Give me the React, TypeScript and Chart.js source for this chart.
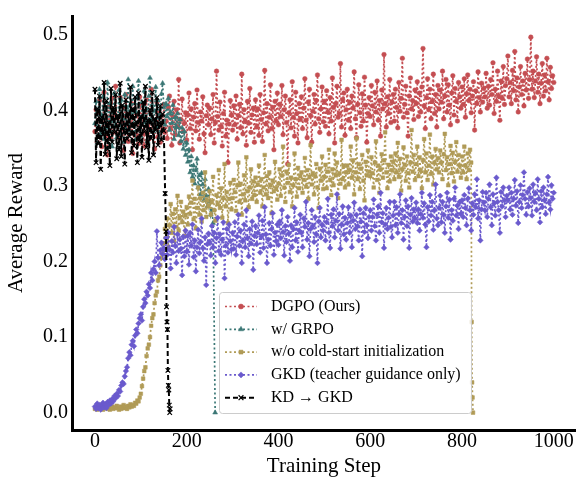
import React, { useEffect, useRef } from 'react';
import { Chart, registerables } from 'chart.js';
import { drawPoint } from 'chart.js/helpers';

Chart.register(...registerables);

// ---------------- data ----------------
const seriesLabels = [
  'DGPO (Ours)',
  'w/ GRPO',
  'w/o cold-start initialization',
  'GKD (teacher guidance only)',
  'KD \u2192 GKD',
];

const xTickValues = [0, 200, 400, 600, 800, 1000];
const yTickValues = [0, 0.1, 0.2, 0.3, 0.4, 0.5];

// DGPO: steps 0..1000 every 2.5
const dgpoStep = 2.5;
const dgpoValues = [
  0.372, 0.401, 0.358, 0.394, 0.413, 0.377, 0.352, 0.389, 0.424, 0.366, 0.383, 0.341, 0.405, 0.387, 0.363, 0.416, 0.371, 0.396, 0.432, 0.379,
  0.364, 0.392, 0.417, 0.368, 0.385, 0.347, 0.403, 0.421, 0.376, 0.359, 0.398, 0.373, 0.409, 0.343, 0.381, 0.402, 0.367, 0.394, 0.356, 0.418,
  0.384, 0.406, 0.369, 0.353, 0.391, 0.414, 0.378, 0.362, 0.399, 0.428, 0.374, 0.387, 0.349, 0.382, 0.411, 0.365, 0.397, 0.358, 0.393, 0.376,
  0.408, 0.371, 0.386, 0.363, 0.404, 0.419, 0.377, 0.354, 0.392, 0.412, 0.368, 0.401, 0.379, 0.441, 0.357, 0.388, 0.415, 0.372, 0.383, 0.397,
  0.361, 0.394, 0.423, 0.376, 0.402, 0.348, 0.391, 0.409, 0.373, 0.427, 0.384, 0.362, 0.398, 0.386, 0.418, 0.369, 0.344, 0.393, 0.407, 0.381,
  0.403, 0.368, 0.389, 0.421, 0.357, 0.384, 0.452, 0.392, 0.374, 0.411, 0.379, 0.353, 0.396, 0.424, 0.366, 0.387, 0.331, 0.382, 0.413, 0.394,
  0.374, 0.406, 0.381, 0.419, 0.362, 0.393, 0.408, 0.377, 0.448, 0.369, 0.401, 0.386, 0.354, 0.412, 0.383, 0.429, 0.371, 0.394, 0.403, 0.358,
  0.414, 0.378, 0.402, 0.367, 0.421, 0.388, 0.359, 0.397, 0.453, 0.382, 0.409, 0.373, 0.391, 0.434, 0.376, 0.404, 0.348, 0.412, 0.386, 0.423,
  0.381, 0.408, 0.392, 0.433, 0.368, 0.401, 0.419, 0.384, 0.329, 0.397, 0.414, 0.377, 0.438, 0.391, 0.366, 0.424, 0.396, 0.357, 0.409, 0.388,
  0.418, 0.376, 0.403, 0.442, 0.387, 0.364, 0.411, 0.428, 0.393, 0.358, 0.399, 0.421, 0.382, 0.413, 0.447, 0.389, 0.371, 0.402, 0.431, 0.385,
  0.412, 0.379, 0.426, 0.398, 0.369, 0.417, 0.386, 0.443, 0.404, 0.357, 0.409, 0.432, 0.391, 0.396, 0.462, 0.378, 0.414, 0.423, 0.367, 0.401,
  0.428, 0.387, 0.411, 0.376, 0.419, 0.403, 0.451, 0.389, 0.364, 0.408, 0.434, 0.397, 0.379, 0.422, 0.386, 0.444, 0.407, 0.358, 0.396, 0.417,
  0.392, 0.433, 0.406, 0.381, 0.424, 0.398, 0.439, 0.387, 0.413, 0.366, 0.427, 0.402, 0.474, 0.409, 0.378, 0.418, 0.396, 0.441, 0.384, 0.411,
  0.421, 0.386, 0.428, 0.404, 0.377, 0.437, 0.399, 0.416, 0.469, 0.391, 0.408, 0.432, 0.397, 0.366, 0.419, 0.443, 0.402, 0.413, 0.388, 0.427,
  0.409, 0.438, 0.392, 0.423, 0.398, 0.431, 0.482, 0.406, 0.376, 0.417, 0.442, 0.401, 0.428, 0.389, 0.412, 0.448, 0.396, 0.421, 0.378, 0.433,
  0.402, 0.427, 0.411, 0.452, 0.389, 0.419, 0.441, 0.398, 0.434, 0.407, 0.381, 0.423, 0.446, 0.394, 0.429, 0.412, 0.386, 0.437, 0.418, 0.403,
  0.431, 0.408, 0.442, 0.391, 0.422, 0.447, 0.413, 0.428, 0.397, 0.419, 0.438, 0.374, 0.426, 0.409, 0.451, 0.417, 0.398, 0.436, 0.411, 0.429,
  0.418, 0.449, 0.403, 0.432, 0.407, 0.441, 0.421, 0.463, 0.396, 0.428, 0.412, 0.452, 0.419, 0.387, 0.439, 0.416, 0.458, 0.408, 0.433, 0.442,
  0.472, 0.418, 0.437, 0.409, 0.453, 0.426, 0.478, 0.414, 0.443, 0.398, 0.431, 0.458, 0.421, 0.439, 0.406, 0.449, 0.427, 0.468, 0.416, 0.441,
  0.497, 0.428, 0.452, 0.417, 0.439, 0.471, 0.424, 0.448, 0.409, 0.436, 0.462, 0.419, 0.447, 0.426, 0.469, 0.438, 0.414, 0.457, 0.429, 0.446,
  0.437,
];

// w/ GRPO: steps 0..257.5 every 2.5, then collapse
const grpoStep = 2.5;
const grpoValues = [
  0.383, 0.412, 0.357, 0.401, 0.428, 0.369, 0.394, 0.418, 0.362, 0.405, 0.377, 0.437, 0.371, 0.409, 0.386, 0.352, 0.397, 0.423, 0.381, 0.364,
  0.392, 0.427, 0.368, 0.414, 0.389, 0.358, 0.421, 0.376, 0.403, 0.441, 0.373, 0.408, 0.391, 0.432, 0.379, 0.361, 0.398, 0.417, 0.439, 0.387,
  0.366, 0.411, 0.393, 0.426, 0.384, 0.402, 0.359, 0.419, 0.443, 0.388, 0.407, 0.372, 0.399, 0.431, 0.378, 0.413, 0.363, 0.394, 0.422, 0.436,
  0.404, 0.381, 0.409, 0.392, 0.416, 0.374, 0.398, 0.383, 0.407, 0.362, 0.391, 0.378, 0.396, 0.367, 0.388, 0.359, 0.377, 0.349, 0.372, 0.341,
  0.357, 0.332, 0.348, 0.318, 0.339, 0.312, 0.327, 0.303, 0.321, 0.336, 0.298, 0.314, 0.289, 0.317, 0.302, 0.281, 0.309, 0.287, 0.273, 0.296,
  0.279, 0.262, 0.268, 0.251,
];
const grpoDropSteps = [262];
const grpoDropValues = [0.0];

// w/o cold-start: steps 0..820 every 2.5, then collapse
const coldStep = 2.5;
const coldValues = [
  0.005, 0.008, 0.004, 0.007, 0.006, 0.010, 0.005, 0.004, 0.008, 0.006, 0.009, 0.005, 0.007, 0.004, 0.006, 0.008, 0.005, 0.007, 0.006, 0.009,
  0.006, 0.004, 0.008, 0.005, 0.007, 0.010, 0.006, 0.008, 0.005, 0.009, 0.007, 0.011, 0.008, 0.010, 0.009, 0.013, 0.012, 0.016, 0.015, 0.020,
  0.025, 0.035, 0.045, 0.055, 0.060, 0.075, 0.085, 0.090, 0.100, 0.115, 0.125, 0.130, 0.145, 0.155, 0.160, 0.175, 0.180, 0.195, 0.205, 0.210,
  0.224, 0.243, 0.231, 0.257, 0.219, 0.248, 0.276, 0.238, 0.263, 0.227, 0.269, 0.246, 0.287, 0.241, 0.258, 0.279, 0.252, 0.266, 0.234, 0.261,
  0.272, 0.249, 0.286, 0.263, 0.278, 0.307, 0.256, 0.283, 0.244, 0.271, 0.298, 0.262, 0.284, 0.253, 0.291, 0.268, 0.318, 0.259, 0.281, 0.274,
  0.293, 0.262, 0.279, 0.312, 0.268, 0.254, 0.288, 0.276, 0.321, 0.271, 0.297, 0.258, 0.284, 0.329, 0.273, 0.292, 0.251, 0.283, 0.304, 0.269,
  0.284, 0.308, 0.292, 0.267, 0.301, 0.331, 0.279, 0.303, 0.262, 0.289, 0.314, 0.281, 0.338, 0.293, 0.272, 0.298, 0.322, 0.283, 0.306, 0.288,
  0.311, 0.279, 0.302, 0.327, 0.291, 0.309, 0.273, 0.298, 0.341, 0.289, 0.313, 0.284, 0.318, 0.301, 0.264, 0.307, 0.293, 0.332, 0.297, 0.282,
  0.303, 0.322, 0.287, 0.314, 0.352, 0.298, 0.279, 0.319, 0.304, 0.328, 0.292, 0.311, 0.273, 0.301, 0.343, 0.309, 0.286, 0.324, 0.297, 0.313,
  0.318, 0.291, 0.308, 0.337, 0.299, 0.321, 0.283, 0.312, 0.354, 0.302, 0.317, 0.289, 0.313, 0.329, 0.298, 0.271, 0.323, 0.307, 0.339, 0.296,
  0.312, 0.328, 0.297, 0.319, 0.348, 0.308, 0.288, 0.322, 0.301, 0.343, 0.314, 0.331, 0.284, 0.317, 0.303, 0.361, 0.309, 0.327, 0.298, 0.318,
  0.327, 0.302, 0.321, 0.352, 0.311, 0.334, 0.289, 0.318, 0.363, 0.309, 0.329, 0.296, 0.323, 0.341, 0.307, 0.281, 0.332, 0.314, 0.347, 0.319,
  0.313, 0.338, 0.317, 0.298, 0.331, 0.359, 0.308, 0.327, 0.291, 0.322, 0.342, 0.311, 0.334, 0.371, 0.318, 0.297, 0.328, 0.306, 0.339, 0.321,
  0.332, 0.309, 0.343, 0.318, 0.357, 0.312, 0.336, 0.294, 0.322, 0.351, 0.328, 0.307, 0.339, 0.317, 0.298, 0.331, 0.374, 0.319, 0.341, 0.308,
  0.329, 0.352, 0.313, 0.338, 0.321, 0.297, 0.334, 0.362, 0.318, 0.343, 0.308, 0.327, 0.368, 0.316, 0.339, 0.302, 0.331, 0.349, 0.322, 0.337,
  0.318, 0.347, 0.331, 0.309, 0.342, 0.369, 0.321, 0.338, 0.301, 0.329, 0.353, 0.317, 0.344, 0.306, 0.332, 0.358, 0.319, 0.341, 0.327, 0.311,
  0.339, 0.318, 0.352, 0.327, 0.309, 0.343, 0.321, 0.348, 0.331,
];
const coldDropSteps = [821, 822, 823, 824];
const coldDropValues = [0.12, 0.04, 0.02, 0.0];

// GKD: steps 0..1000 every 2.5
const gkdStep = 2.5;
const gkdValues = [
  0.008, 0.005, 0.012, 0.006, 0.010, 0.004, 0.009, 0.013, 0.007, 0.011, 0.006, 0.014, 0.010, 0.016, 0.012, 0.018, 0.015, 0.022, 0.019, 0.025,
  0.022, 0.030, 0.028, 0.036, 0.040, 0.038, 0.048, 0.055, 0.060, 0.072, 0.080, 0.076, 0.090, 0.095, 0.088, 0.102, 0.110, 0.105, 0.118, 0.125,
  0.130, 0.122, 0.140, 0.150, 0.145, 0.160, 0.155, 0.170, 0.165, 0.185, 0.175, 0.190, 0.200, 0.185, 0.240, 0.205, 0.195, 0.215, 0.225, 0.210,
  0.218, 0.203, 0.231, 0.209, 0.238, 0.216, 0.191, 0.227, 0.212, 0.246, 0.221, 0.198, 0.236, 0.214, 0.229, 0.217, 0.182, 0.233, 0.207, 0.241,
  0.213, 0.234, 0.196, 0.238, 0.221, 0.249, 0.206, 0.228, 0.187, 0.219, 0.242, 0.211, 0.226, 0.257, 0.218, 0.201, 0.232, 0.169, 0.223, 0.237,
  0.226, 0.208, 0.247, 0.219, 0.238, 0.198, 0.231, 0.258, 0.214, 0.236, 0.209, 0.229, 0.252, 0.178, 0.221, 0.243, 0.212, 0.249, 0.227, 0.216,
  0.238, 0.217, 0.252, 0.209, 0.233, 0.262, 0.221, 0.241, 0.198, 0.228, 0.249, 0.219, 0.268, 0.231, 0.207, 0.243, 0.224, 0.253, 0.189, 0.234,
  0.247, 0.223, 0.238, 0.261, 0.212, 0.233, 0.254, 0.218, 0.272, 0.236, 0.198, 0.229, 0.251, 0.221, 0.243, 0.264, 0.209, 0.238, 0.227, 0.249,
  0.222, 0.253, 0.231, 0.268, 0.239, 0.208, 0.247, 0.226, 0.259, 0.237, 0.201, 0.248, 0.219, 0.243, 0.271, 0.228, 0.252, 0.213, 0.241, 0.262,
  0.238, 0.219, 0.257, 0.246, 0.279, 0.229, 0.251, 0.207, 0.243, 0.268, 0.247, 0.226, 0.259, 0.236, 0.198, 0.253, 0.271, 0.232, 0.249, 0.241,
  0.259, 0.228, 0.252, 0.283, 0.238, 0.218, 0.262, 0.247, 0.269, 0.232, 0.254, 0.289, 0.241, 0.263, 0.217, 0.249, 0.273, 0.236, 0.258, 0.229,
  0.251, 0.272, 0.238, 0.261, 0.219, 0.254, 0.278, 0.243, 0.262, 0.247, 0.228, 0.269, 0.253, 0.207, 0.264, 0.239, 0.271, 0.248, 0.231, 0.259,
  0.268, 0.241, 0.259, 0.282, 0.247, 0.228, 0.262, 0.273, 0.238, 0.291, 0.252, 0.264, 0.218, 0.249, 0.271, 0.243, 0.258, 0.279, 0.246, 0.232,
  0.261, 0.279, 0.248, 0.272, 0.238, 0.263, 0.289, 0.251, 0.268, 0.229, 0.259, 0.281, 0.247, 0.273, 0.218, 0.262, 0.284, 0.253, 0.269, 0.257,
  0.278, 0.251, 0.269, 0.241, 0.263, 0.291, 0.258, 0.277, 0.249, 0.219, 0.272, 0.253, 0.288, 0.261, 0.279, 0.242, 0.268, 0.302, 0.257, 0.248,
  0.271, 0.287, 0.252, 0.279, 0.262, 0.238, 0.273, 0.291, 0.258, 0.282, 0.229, 0.268, 0.254, 0.283, 0.298, 0.261, 0.274, 0.243, 0.279, 0.263,
  0.281, 0.259, 0.288, 0.271, 0.248, 0.283, 0.297, 0.268, 0.241, 0.277, 0.262, 0.289, 0.272, 0.309, 0.257, 0.281, 0.228, 0.269, 0.292, 0.278,
  0.268, 0.291, 0.259, 0.283, 0.302, 0.272, 0.248, 0.289, 0.277, 0.261, 0.311, 0.279, 0.268, 0.238, 0.292, 0.273, 0.298, 0.281, 0.259, 0.287,
  0.281, 0.298, 0.269, 0.291, 0.262, 0.283, 0.308, 0.274, 0.293, 0.251, 0.279, 0.301, 0.271, 0.288, 0.318, 0.283, 0.262, 0.292, 0.273, 0.297,
  0.284, 0.261, 0.302, 0.279, 0.291, 0.268, 0.309, 0.283, 0.252, 0.293, 0.272, 0.298, 0.281, 0.263, 0.289, 0.312, 0.278, 0.269, 0.301, 0.283,
  0.291,
];

// KD -> GKD: steps 0..150 every 2.5, then collapse
const kdStep = 2.5;
const kdValues = [
  0.428, 0.331, 0.402, 0.356, 0.419, 0.322, 0.391, 0.368, 0.437, 0.342, 0.413, 0.349, 0.384, 0.327, 0.429, 0.358, 0.404, 0.371, 0.421, 0.336,
  0.393, 0.348, 0.436, 0.339, 0.407, 0.377, 0.329, 0.414, 0.362, 0.396, 0.366, 0.431, 0.344, 0.402, 0.353, 0.418, 0.381, 0.331, 0.423, 0.359,
  0.392, 0.338, 0.411, 0.372, 0.432, 0.351, 0.387, 0.334, 0.401, 0.363, 0.424, 0.341, 0.389, 0.374, 0.417, 0.354, 0.383, 0.406, 0.361, 0.395,
  0.373,
];
const kdDropSteps = [153, 155, 156, 157, 158, 159, 160, 161, 162, 163, 164];
const kdDropValues = [0.29, 0.24, 0.14, 0.12, 0.11, 0.056, 0.036, 0.03, 0.01, 0.0, 0.005];

// ---------------- helpers ----------------
function toPoints(step: number, values: number[], extraSteps: number[] = [], extraValues: number[] = []) {
  const pts = values.map((v, i) => ({ x: i * step, y: v }));
  extraSteps.forEach((s, i) => pts.push({ x: s, y: extraValues[i] }));
  return pts;
}

const FONT = '"Liberation Serif", "DejaVu Serif", "Times New Roman", serif';

const legendPlugin = {
  id: 'boxLegend',
  afterDraw(chart: any) {
    const ctx = chart.ctx as CanvasRenderingContext2D;
    ctx.save();
    const bx = 219.5, by = 292.5, bw = 252, bh = 121;
    ctx.beginPath();
    (ctx as any).roundRect(bx, by, bw, bh, 3);
    ctx.fillStyle = 'rgba(255,255,255,0.8)';
    ctx.fill();
    ctx.strokeStyle = '#cccccc';
    ctx.lineWidth = 1;
    ctx.stroke();
    ctx.font = `16px ${FONT}`;
    ctx.textBaseline = 'middle';
    ctx.textAlign = 'left';
    chart.data.datasets.forEach((ds: any, i: number) => {
      const y = 306.5 + i * 22.8;
      ctx.setLineDash(ds.borderDash || []);
      ctx.strokeStyle = ds.borderColor;
      ctx.lineWidth = ds.borderWidth;
      ctx.beginPath();
      ctx.moveTo(225, y);
      ctx.lineTo(257, y);
      ctx.stroke();
      ctx.setLineDash([]);
      ctx.fillStyle = ds.pointBackgroundColor;
      ctx.strokeStyle = ds.pointBorderColor;
      ctx.lineWidth = ds.pointBorderWidth;
      drawPoint(ctx, {
        pointStyle: ds.pointStyle,
        radius: ds.pointRadius + 0.2,
        borderWidth: ds.pointBorderWidth,
        rotation: 0,
      } as any, 241, y);
      ctx.fillStyle = '#000000';
      ctx.fillText(ds.label, 271, y);
    });
    ctx.restore();
  },
};

export default function App() {
  const canvasRef = useRef<HTMLCanvasElement | null>(null);

  useEffect(() => {
    if (!canvasRef.current) return;
    const dotted = [2, 2.5];
    const chart = new Chart(canvasRef.current, {
      type: 'line',
      data: {
        datasets: [
          {
            label: seriesLabels[0],
            data: toPoints(dgpoStep, dgpoValues),
            borderColor: '#C44E52',
            pointBackgroundColor: '#C44E52',
            pointBorderColor: '#C44E52',
            borderWidth: 1.7,
            borderDash: dotted,
            pointStyle: 'circle',
            pointRadius: 2.3,
            pointBorderWidth: 0.5,
            order: 5,
          },
          {
            label: seriesLabels[1],
            data: toPoints(grpoStep, grpoValues, grpoDropSteps, grpoDropValues),
            borderColor: '#3B7775',
            pointBackgroundColor: '#3B7775',
            pointBorderColor: '#3B7775',
            borderWidth: 1.7,
            borderDash: dotted,
            pointStyle: 'triangle',
            pointRadius: 2.8,
            pointBorderWidth: 0.5,
            order: 4,
          },
          {
            label: seriesLabels[2],
            data: toPoints(coldStep, coldValues, coldDropSteps, coldDropValues),
            borderColor: '#B09B57',
            pointBackgroundColor: '#B09B57',
            pointBorderColor: '#B09B57',
            borderWidth: 1.7,
            borderDash: dotted,
            pointStyle: 'rect',
            pointRadius: 2.6,
            pointBorderWidth: 0.5,
            order: 3,
          },
          {
            label: seriesLabels[3],
            data: toPoints(gkdStep, gkdValues),
            borderColor: '#6A5ACD',
            pointBackgroundColor: '#6A5ACD',
            pointBorderColor: '#6A5ACD',
            borderWidth: 1.7,
            borderDash: dotted,
            pointStyle: 'rectRot',
            pointRadius: 2.8,
            pointBorderWidth: 0.5,
            order: 2,
          },
          {
            label: seriesLabels[4],
            data: toPoints(kdStep, kdValues, kdDropSteps, kdDropValues),
            borderColor: '#000000',
            pointBackgroundColor: '#000000',
            pointBorderColor: '#000000',
            borderWidth: 2,
            borderDash: [5, 3],
            pointStyle: 'crossRot',
            pointRadius: 3.2,
            pointBorderWidth: 1.2,
            order: 1,
          },
        ],
      },
      options: {
        animation: false,
        responsive: true,
        maintainAspectRatio: false,
        layout: { padding: { top: 3, right: 0, left: 0, bottom: 0 } },
        elements: { line: { tension: 0, fill: false } },
        plugins: {
          legend: { display: false },
          tooltip: { enabled: false },
        },
        scales: {
          x: {
            type: 'linear',
            min: -50,
            max: 1048,
            grid: { display: false, drawTicks: false },
            border: { display: true, color: '#000000', width: 3 },
            afterBuildTicks: (axis: any) => {
              axis.ticks = xTickValues.map((v) => ({ value: v }));
            },
            afterFit: (axis: any) => {
              axis.height = 51;
            },
            ticks: {
              color: '#000000',
              padding: 0,
              maxRotation: 0,
              font: { family: FONT, size: 20 },
              callback: (v: any) => String(v),
            },
            title: {
              display: true,
              text: 'Training Step',
              color: '#000000',
              font: { family: FONT, size: 21 },
              padding: { top: 0, bottom: 2 },
            },
          },
          y: {
            type: 'linear',
            min: -0.023,
            max: 0.525,
            grid: { display: false, drawTicks: false },
            border: { display: true, color: '#000000', width: 3 },
            afterBuildTicks: (axis: any) => {
              axis.ticks = yTickValues.map((v) => ({ value: v }));
            },
            afterFit: (axis: any) => {
              axis.width = 72;
            },
            ticks: {
              color: '#000000',
              padding: 4,
              font: { family: FONT, size: 20 },
              callback: (v: any) => Number(v).toFixed(1),
            },
            title: {
              display: true,
              text: 'Average Reward',
              color: '#000000',
              font: { family: FONT, size: 21 },
              padding: { top: 4, bottom: 0 },
            },
          },
        },
      },
      plugins: [legendPlugin],
    } as any);
    return () => chart.destroy();
  }, []);

  return (
    <div style={{ position: 'fixed', left: 0, top: 0, width: 581, height: 481, background: '#ffffff' }}>
      <canvas ref={canvasRef} />
    </div>
  );
}
